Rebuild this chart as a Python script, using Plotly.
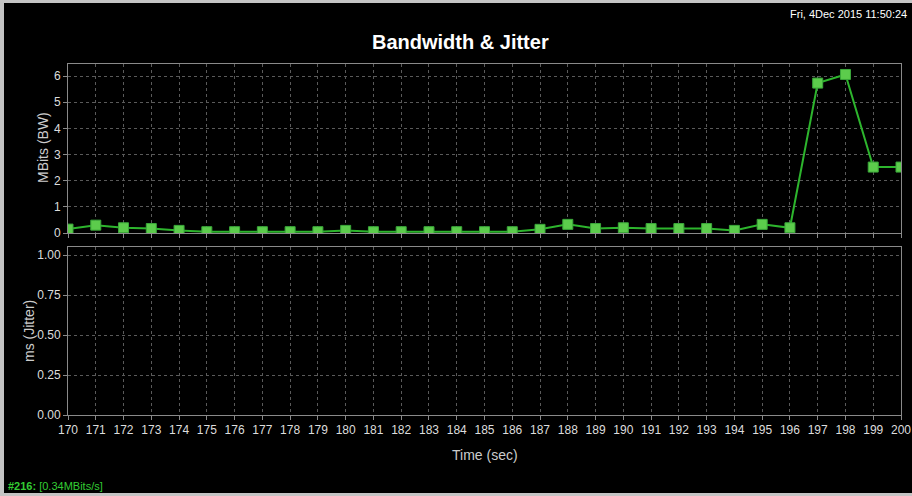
import plotly.graph_objects as go

time_sec = list(range(170, 201))
bandwidth_mbits = [0.15, 0.30, 0.20, 0.17, 0.10, 0.05, 0.05, 0.05, 0.05, 0.05,
                   0.10, 0.05, 0.05, 0.05, 0.05, 0.05, 0.05, 0.14, 0.33, 0.17,
                   0.20, 0.17, 0.17, 0.17, 0.10, 0.33, 0.20, 5.73, 6.06, 2.52, 2.52]
bw_ticks = [0, 1, 2, 3, 4, 5, 6]
jitter_ticks = [0.0, 0.25, 0.5, 0.75, 1.0]

W, H = 912, 496
L, R, T, B = 68, 11, 64, 81
pw, ph = W - L - R, H - T - B

def px(x):
    return (x - L) / pw

def py(y):
    return (H - B - y) / ph

FONT = "Liberation Sans, Arial, sans-serif"
NARROW = "Liberation Sans Narrow, Arial Narrow, sans-serif"
GRID = "#5a5a5a"
FRAME = "#8a8a8a"

fig = go.Figure()
fig.add_trace(go.Scatter(
    x=time_sec, y=bandwidth_mbits, mode="lines+markers",
    line=dict(color="#2db52d", width=2),
    marker=dict(symbol="square", size=10, color="#5ccc4c",
                line=dict(color="#3aa83a", width=1)),
    xaxis="x", yaxis="y", showlegend=False, cliponaxis=True))
# empty jitter panel
fig.add_trace(go.Scatter(x=[], y=[], xaxis="x2", yaxis="y2", showlegend=False))

axis_common = dict(
    showgrid=True, gridcolor=GRID, griddash="dot", gridwidth=1,
    showline=True, linecolor=FRAME, linewidth=1, mirror=True,
    zeroline=False, tickfont=dict(family=FONT, size=12, color="#dddddd"),
    ticks="outside", ticklen=4, tickcolor=FRAME, automargin=False,
)

top_bottom = py(233)
bot_top = py(247)

title_font = dict(family=FONT, size=14, color="#cccccc")

fig.update_layout(
    width=W, height=H,
    margin=dict(l=L, r=R, t=T, b=B),
    paper_bgcolor="#c4c4c4", plot_bgcolor="#000000",
    xaxis=dict(axis_common, range=[170, 200], tickvals=time_sec,
               showticklabels=False, anchor="y", domain=[0, 1]),
    yaxis=dict(axis_common, domain=[top_bottom, 1], range=[0, 6.46],
               tickvals=bw_ticks, anchor="x"),
    xaxis2=dict(axis_common, range=[170, 200], tickvals=time_sec, anchor="y2",
                domain=[0, 1]),
    yaxis2=dict(axis_common, domain=[0, bot_top], range=[0, 1.05],
                tickvals=jitter_ticks, tickformat=".2f", anchor="x2"),
    shapes=[
        dict(type="rect", xref="paper", yref="paper", layer="below",
             x0=px(4), x1=px(915), y0=py(493), y1=py(3),
             fillcolor="#000000", line=dict(width=0)),
    ],
    annotations=[
        dict(text="<b>Bandwidth & Jitter</b>", xref="paper", yref="paper",
             x=px(460), y=py(42), xanchor="center", yanchor="middle",
             showarrow=False, font=dict(family=FONT, size=20, color="#ffffff")),
        dict(text="MBits (BW)", xref="paper", yref="paper", textangle=-90,
             x=px(43), y=py(148), xanchor="center", yanchor="middle",
             showarrow=False, font=title_font),
        dict(text="ms (Jitter)", xref="paper", yref="paper", textangle=-90,
             x=px(29), y=py(331), xanchor="center", yanchor="middle",
             showarrow=False, font=title_font),
        dict(text="Time (sec)", xref="paper", yref="paper",
             x=px(485), y=py(455), xanchor="center", yanchor="middle",
             showarrow=False, font=title_font),
        dict(text="Fri, 4Dec 2015 11:50:24", xref="paper", yref="paper",
             x=px(909), y=py(14), xanchor="right", yanchor="middle",
             showarrow=False,
             font=dict(family=NARROW, size=11, color="#ffffff")),
        dict(text="<b>#216:</b> [0.34MBits/s]", xref="paper", yref="paper",
             x=px(6), y=py(486), xanchor="left", yanchor="middle",
             showarrow=False,
             font=dict(family=NARROW, size=11, color="#33cc33")),
    ],
)

fig.write_html("out.html",
               config={"displayModeBar": False},
               post_script="document.body.style.margin='0';"
                           "document.body.style.overflow='hidden';")
